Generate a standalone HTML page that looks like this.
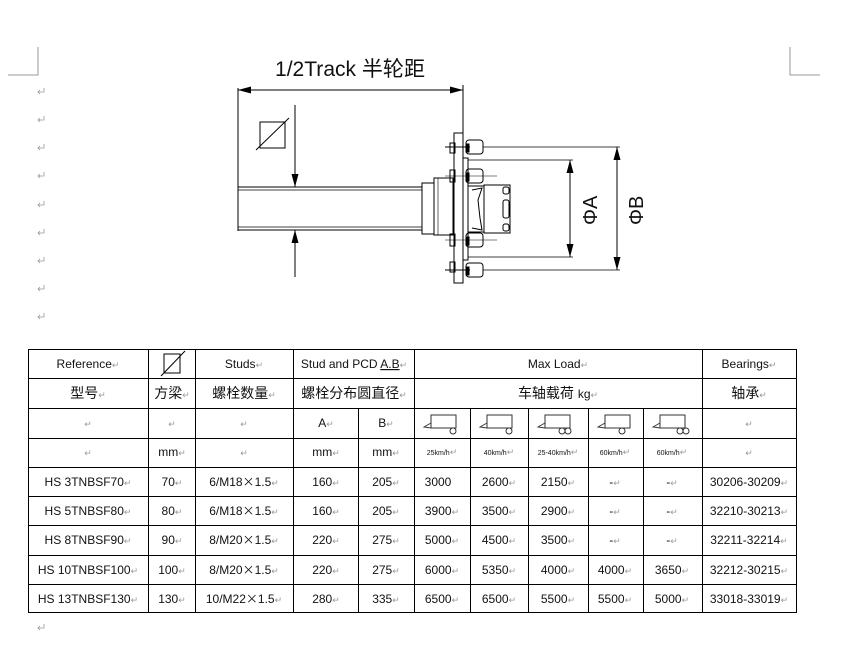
<!DOCTYPE html>
<html><head><meta charset="utf-8"><style>
html,body{margin:0;padding:0;background:#fff;}
svg{display:block;}
text{font-family:"Liberation Sans","Noto Sans CJK SC",sans-serif;fill:#111;}
.r{fill:#999;font-size:9px;}
.x{font-family:"Noto Sans CJK SC",sans-serif;}
</style></head><body>
<svg width="841" height="652" viewBox="0 0 841 652" xmlns="http://www.w3.org/2000/svg">
<defs>
<g id="ret"><path d="M6 0 V4 H0 M2 2 L0 4 L2 6" fill="none" stroke="#999" stroke-width="0.8"/></g>
<marker id="ah" markerWidth="13" markerHeight="7" refX="13" refY="3.5" orient="auto-start-reverse" markerUnits="userSpaceOnUse"><path d="M0 0 L13 3.5 L0 7z" fill="#000"/></marker>
<g id="tr"><rect x="17" y="7" width="25" height="13" fill="none" stroke="#333" stroke-width="1"/><path d="M17 15 L10 19 L17 20" fill="none" stroke="#333" stroke-width="0.9"/></g>
</defs>
<path d="M38 47 V75 H8 M790 47 V75 H820" fill="none" stroke="#999" stroke-width="1"/>
<g transform="translate(38,88)"><use href="#ret"/></g>
<g transform="translate(38,116)"><use href="#ret"/></g>
<g transform="translate(38,144)"><use href="#ret"/></g>
<g transform="translate(38,172)"><use href="#ret"/></g>
<g transform="translate(38,201)"><use href="#ret"/></g>
<g transform="translate(38,229)"><use href="#ret"/></g>
<g transform="translate(38,257)"><use href="#ret"/></g>
<g transform="translate(38,285)"><use href="#ret"/></g>
<g transform="translate(38,313)"><use href="#ret"/></g>
<g transform="translate(38,624)"><use href="#ret"/></g>

<text x="275" y="76" font-size="21" textLength="150" lengthAdjust="spacingAndGlyphs">1/2Track 半轮距</text>
<g stroke="#000" fill="none" stroke-width="1">
<line x1="238" y1="90" x2="463" y2="90" marker-start="url(#ah)" marker-end="url(#ah)"/>
<line x1="238" y1="88" x2="238" y2="231"/>
<line x1="463" y1="85" x2="463" y2="134"/>
<rect x="260" y="122" width="25" height="26"/>
<line x1="256" y1="150" x2="289" y2="118"/>
<line x1="295" y1="105" x2="295" y2="187" marker-end="url(#ah)"/>
<line x1="295" y1="277" x2="295" y2="230" marker-end="url(#ah)"/>
<rect x="238" y="187" width="184" height="43"/>
<line x1="238" y1="190" x2="422" y2="190" stroke-width="0.7"/>
<line x1="238" y1="227" x2="422" y2="227" stroke-width="0.7"/>
<rect x="422" y="183" width="12" height="51"/>
<rect x="434" y="178" width="19" height="57"/>
<line x1="438" y1="178" x2="438" y2="235" stroke-width="0.6"/>
<rect x="454" y="133" width="9" height="150"/>
<rect x="463" y="158" width="5" height="102"/>
<rect x="450" y="143" width="5" height="10"/><rect x="450" y="170" width="5" height="12"/><rect x="450" y="234" width="5" height="12"/><rect x="450" y="262" width="5" height="10"/>
<rect x="466" y="140" width="17" height="14" rx="3"/>
<rect x="466" y="169" width="17" height="14" rx="3"/>
<rect x="466" y="233" width="17" height="14" rx="3"/>
<rect x="466" y="263" width="17" height="14" rx="3"/>
<line x1="445" y1="147" x2="470" y2="147"/><line x1="445" y1="176" x2="497" y2="176" stroke-width="0.6"/><line x1="445" y1="240" x2="497" y2="240" stroke-width="0.6"/><line x1="445" y1="270" x2="470" y2="270"/>
<rect x="466" y="144" width="3" height="8" fill="#000"/><rect x="466" y="173" width="3" height="8" fill="#000"/><rect x="466" y="237" width="3" height="8" fill="#000"/><rect x="466" y="267" width="3" height="8" fill="#000"/>
<path d="M468 186 L484 186 L484 232 L468 232 M472 190 L482 188 L478 200 L480 218 L482 230 L472 228"/>
<rect x="484" y="185" width="26" height="48"/>
<rect x="503" y="187" width="6" height="7" rx="2"/><rect x="503" y="200" width="6" height="18" rx="2"/><rect x="503" y="224" width="6" height="7" rx="2"/>
<line x1="483" y1="147" x2="620" y2="147" stroke-width="0.8"/>
<line x1="468" y1="160" x2="573" y2="160" stroke-width="0.8"/>
<line x1="468" y1="257" x2="573" y2="257" stroke-width="0.8"/>
<line x1="483" y1="270" x2="620" y2="270" stroke-width="0.8"/>
<line x1="570" y1="208" x2="570" y2="160" marker-end="url(#ah)"/>
<line x1="570" y1="208" x2="570" y2="257" marker-end="url(#ah)"/>
<line x1="617" y1="208" x2="617" y2="147" marker-end="url(#ah)"/>
<line x1="617" y1="208" x2="617" y2="270" marker-end="url(#ah)"/>
</g>
<text transform="translate(597,225) rotate(-90)" font-size="20">ΦA</text>
<text transform="translate(643,225) rotate(-90)" font-size="20">ΦB</text>

<g stroke="#000" stroke-width="1" fill="none">
<rect x="28.5" y="349.5" width="768" height="263"/>
<line x1="28" y1="378.5" x2="797" y2="378.5"/>
<line x1="28" y1="408.5" x2="797" y2="408.5"/>
<line x1="28" y1="438.5" x2="797" y2="438.5"/>
<line x1="28" y1="467.5" x2="797" y2="467.5"/>
<line x1="28" y1="496.5" x2="797" y2="496.5"/>
<line x1="28" y1="525.5" x2="797" y2="525.5"/>
<line x1="28" y1="555.5" x2="797" y2="555.5"/>
<line x1="28" y1="584.5" x2="797" y2="584.5"/>
<line x1="148.5" y1="349" x2="148.5" y2="613"/>
<line x1="195.5" y1="349" x2="195.5" y2="613"/>
<line x1="293.5" y1="349" x2="293.5" y2="613"/>
<line x1="414.5" y1="349" x2="414.5" y2="613"/>
<line x1="702.5" y1="349" x2="702.5" y2="613"/>
<line x1="358.5" y1="408" x2="358.5" y2="613"/>
<line x1="470.5" y1="408" x2="470.5" y2="613"/>
<line x1="528.5" y1="408" x2="528.5" y2="613"/>
<line x1="588.5" y1="408" x2="588.5" y2="613"/>
<line x1="643.5" y1="408" x2="643.5" y2="613"/>
<rect x="164" y="354" width="16" height="19"/>
<line x1="161" y1="376" x2="185" y2="351"/>
</g>
<g transform="translate(414,408)"><use href="#tr"/><circle cx="39" cy="23" r="3" fill="none" stroke="#333"/></g>
<g transform="translate(470,408)"><use href="#tr"/><circle cx="39" cy="23" r="3" fill="none" stroke="#333"/></g>
<g transform="translate(528,408)"><use href="#tr"/><circle cx="34" cy="23" r="3" fill="none" stroke="#333"/><circle cx="40" cy="23" r="3" fill="none" stroke="#333"/></g>
<g transform="translate(588,408)"><use href="#tr"/><circle cx="34" cy="23" r="3" fill="none" stroke="#333"/></g>
<g transform="translate(643,408)"><use href="#tr"/><circle cx="37" cy="23" r="3" fill="none" stroke="#333"/><circle cx="43" cy="23" r="3" fill="none" stroke="#333"/></g>

<g font-size="12" text-anchor="middle">
<text x="88" y="368">Reference<tspan class="r">↵</tspan></text>
<text x="244" y="368">Studs<tspan class="r">↵</tspan></text>
<text x="354" y="368">Stud and PCD <tspan text-decoration="underline">A.B</tspan><tspan class="r">↵</tspan></text>
<text x="558" y="368">Max Load<tspan class="r">↵</tspan></text>
<text x="749" y="368">Bearings<tspan class="r">↵</tspan></text>
<g font-size="14">
<text x="88" y="398">型号<tspan class="r">↵</tspan></text>
<text x="172" y="398">方梁<tspan class="r">↵</tspan></text>
<text x="244" y="398">螺栓数量<tspan class="r">↵</tspan></text>
<text x="354" y="398">螺栓分布圆直径<tspan class="r">↵</tspan></text>
<text x="558" y="398">车轴载荷 <tspan font-size="12">kg</tspan><tspan class="r">↵</tspan></text>
<text x="749" y="398">轴承<tspan class="r">↵</tspan></text>
</g>
<text x="88" y="427" class="r">↵</text><text x="172" y="427" class="r">↵</text><text x="244" y="427" class="r">↵</text>
<text x="326" y="427">A<tspan class="r">↵</tspan></text><text x="386" y="427">B<tspan class="r">↵</tspan></text>
<text x="749" y="427" class="r">↵</text>
<text x="88" y="456" class="r">↵</text><text x="172" y="456">mm<tspan class="r">↵</tspan></text><text x="244" y="456" class="r">↵</text>
<text x="326" y="456">mm<tspan class="r">↵</tspan></text><text x="386" y="456">mm<tspan class="r">↵</tspan></text>
<g font-size="7"><text x="442" y="455">25km/h<tspan class="r">↵</tspan></text><text x="499" y="455">40km/h<tspan class="r">↵</tspan></text><text x="558" y="455">25-40km/h<tspan class="r">↵</tspan></text><text x="615" y="455">60km/h<tspan class="r">↵</tspan></text><text x="672" y="455">60km/h<tspan class="r">↵</tspan></text></g>
<text x="749" y="456" class="r">↵</text>

<text x="88" y="486">HS 3TNBSF70<tspan class="r">↵</tspan></text><text x="172" y="486">70<tspan class="r">↵</tspan></text><text x="244" y="486">6/M18<tspan class="x">×</tspan>1.5<tspan class="r">↵</tspan></text><text x="326" y="486">160<tspan class="r">↵</tspan></text><text x="386" y="486">205<tspan class="r">↵</tspan></text><text x="438" y="486">3000</text><text x="499" y="486">2600<tspan class="r">↵</tspan></text><text x="558" y="486">2150<tspan class="r">↵</tspan></text><text x="615" y="486">-<tspan class="r">↵</tspan></text><text x="672" y="486">-<tspan class="r">↵</tspan></text><text x="749" y="486">30206-30209<tspan class="r">↵</tspan></text>

<text x="88" y="515">HS 5TNBSF80<tspan class="r">↵</tspan></text><text x="172" y="515">80<tspan class="r">↵</tspan></text><text x="244" y="515">6/M18<tspan class="x">×</tspan>1.5<tspan class="r">↵</tspan></text><text x="326" y="515">160<tspan class="r">↵</tspan></text><text x="386" y="515">205<tspan class="r">↵</tspan></text><text x="442" y="515">3900<tspan class="r">↵</tspan></text><text x="499" y="515">3500<tspan class="r">↵</tspan></text><text x="558" y="515">2900<tspan class="r">↵</tspan></text><text x="615" y="515">-<tspan class="r">↵</tspan></text><text x="672" y="515">-<tspan class="r">↵</tspan></text><text x="749" y="515">32210-30213<tspan class="r">↵</tspan></text>

<text x="88" y="544">HS 8TNBSF90<tspan class="r">↵</tspan></text><text x="172" y="544">90<tspan class="r">↵</tspan></text><text x="244" y="544">8/M20<tspan class="x">×</tspan>1.5<tspan class="r">↵</tspan></text><text x="326" y="544">220<tspan class="r">↵</tspan></text><text x="386" y="544">275<tspan class="r">↵</tspan></text><text x="442" y="544">5000<tspan class="r">↵</tspan></text><text x="499" y="544">4500<tspan class="r">↵</tspan></text><text x="558" y="544">3500<tspan class="r">↵</tspan></text><text x="615" y="544">-<tspan class="r">↵</tspan></text><text x="672" y="544">-<tspan class="r">↵</tspan></text><text x="749" y="544">32211-32214<tspan class="r">↵</tspan></text>

<text x="88" y="574">HS 10TNBSF100<tspan class="r">↵</tspan></text><text x="172" y="574">100<tspan class="r">↵</tspan></text><text x="244" y="574">8/M20<tspan class="x">×</tspan>1.5<tspan class="r">↵</tspan></text><text x="326" y="574">220<tspan class="r">↵</tspan></text><text x="386" y="574">275<tspan class="r">↵</tspan></text><text x="442" y="574">6000<tspan class="r">↵</tspan></text><text x="499" y="574">5350<tspan class="r">↵</tspan></text><text x="558" y="574">4000<tspan class="r">↵</tspan></text><text x="615" y="574">4000<tspan class="r">↵</tspan></text><text x="672" y="574">3650<tspan class="r">↵</tspan></text><text x="749" y="574">32212-30215<tspan class="r">↵</tspan></text>

<text x="88" y="603">HS 13TNBSF130<tspan class="r">↵</tspan></text><text x="172" y="603">130<tspan class="r">↵</tspan></text><text x="244" y="603">10/M22<tspan class="x">×</tspan>1.5<tspan class="r">↵</tspan></text><text x="326" y="603">280<tspan class="r">↵</tspan></text><text x="386" y="603">335<tspan class="r">↵</tspan></text><text x="442" y="603">6500<tspan class="r">↵</tspan></text><text x="499" y="603">6500<tspan class="r">↵</tspan></text><text x="558" y="603">5500<tspan class="r">↵</tspan></text><text x="615" y="603">5500<tspan class="r">↵</tspan></text><text x="672" y="603">5000<tspan class="r">↵</tspan></text><text x="749" y="603">33018-33019<tspan class="r">↵</tspan></text>
</g>
</svg>
</body></html>
